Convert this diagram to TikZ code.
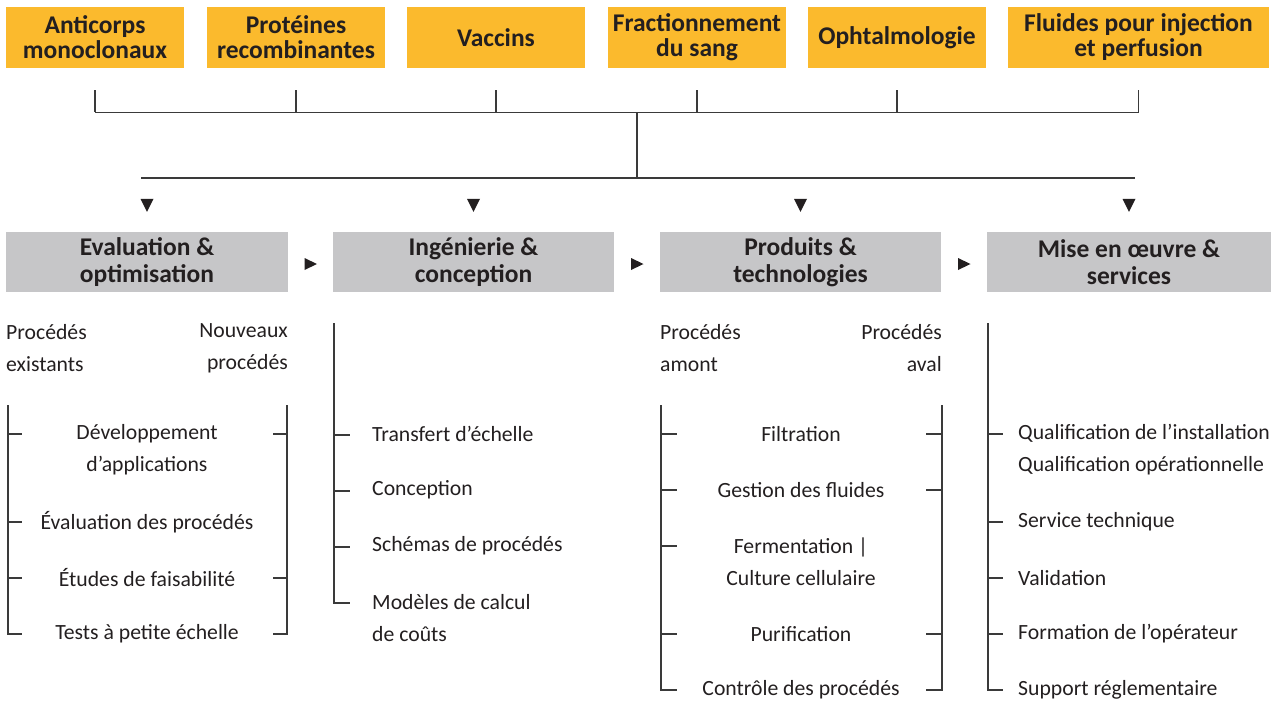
\documentclass[tikz,border=0pt]{standalone}
\usepackage{fontspec}
\setmainfont{Carlito}
\usetikzlibrary{calc}
\definecolor{orng}{HTML}{FBBA2D}
\definecolor{grayb}{HTML}{C6C6C8}
\definecolor{txt}{HTML}{231F20}
\definecolor{ln}{HTML}{3A3A3A}
\begin{document}
\begin{tikzpicture}[x=1pt,y=-1pt,
  topbox/.style={fill=orng, minimum height=61pt, minimum width=178pt, inner sep=0pt, align=center, text=txt, font=\bfseries\fontsize{25.5}{25}\selectfont},
  graybox/.style={fill=grayb, minimum height=60pt, inner sep=0pt, align=center, text=txt, font=\bfseries\fontsize{25.5}{26.5}\selectfont},
  item/.style={inner sep=0pt, text=txt, font=\fontsize{21.7}{32}\selectfont},
  line/.style={draw=ln, line width=1.3pt},
  tipmark/.style={fill=txt}
]
\useasboundingbox (0,0) rectangle (1281,702);

% top boxes
\node[topbox] (t1) at (95,37.5) {Anticorps\\monoclonaux};
\node[topbox] (t2) at (296,37.5) {Protéines\\recombinantes};
\node[topbox] (t3) at (496,37.5) {Vaccins};
\node[topbox] (t4) at (697,37.5) {Fractionnement\\du sang};
\node[topbox] (t5) at (897,37.5) {Ophtalmologie};
\node[topbox, minimum width=261pt] (t6) at (1138.5,37.5) {Fluides pour injection\\et perfusion};

\foreach \t in {t1,t2,t3,t4,t5,t6}{
  \draw[line] ($(\t.south)+(0,22)$) -- ($(\t.south)+(0,44)$);
}
\draw[line] ($(t1.south)+(0,44)$) -- ($(t6.south)+(0,44)$);
\coordinate (hub) at (637,112);
\coordinate (bus) at (637,178);
\coordinate (busL) at (141,178);
\coordinate (busR) at (1135,178);
\draw[line] (hub) -- (bus);
\draw[line] (busL) -- (busR);

% gray boxes
\node[graybox, minimum width=282pt] (g1) at (147,262) {Evaluation \&\\optimisation};
\node[graybox, minimum width=281pt] (g2) at (473.5,262) {Ingénierie \&\\conception};
\node[graybox, minimum width=281pt] (g3) at (800.5,262) {Produits \&\\technologies};
\node[graybox, minimum width=284pt] (g4) at (1129,262) {Mise en œuvre \&\\services};

\foreach \g in {g1,g2,g3,g4}{
  \fill[tipmark] ($(\g.north)+(-6.5,-33)$) -- ++(13,0) -- ++(-6.5,13) -- cycle;
}
\fill[tipmark] ($(g1.east)!0.5!(g2.west)+(-6,-4)$) -- ++(0,12) -- ++(12.5,-6) -- cycle;
\fill[tipmark] ($(g2.east)!0.5!(g3.west)+(-6,-4)$) -- ++(0,12) -- ++(12.5,-6) -- cycle;
\fill[tipmark] ($(g3.east)!0.5!(g4.west)+(-6,-4)$) -- ++(0,12) -- ++(12.5,-6) -- cycle;

% column 1
\node[item, anchor=west, align=left] (h1a) at (6,348) {Procédés\\existants};
\node[item, anchor=east, align=right] (h1b) at (288,348) {Nouveaux\\procédés};
\draw[line] (8,405) -- (8,634) -- (22,634);
\foreach \y in {434,522,578}{ \draw[line] (8,\y) -- (22,\y); }
\draw[line] (287,405) -- (287,634) -- (273,634);
\foreach \y in {434,578}{ \draw[line] (287,\y) -- (273,\y); }
\node[item, align=center] (c1a) at (147,450) {Développement\\d’applications};
\node[item] (c1b) at (147,522) {Évaluation des procédés};
\node[item] (c1c) at (147,578) {Études de faisabilité};
\node[item] (c1d) at (147,634) {Tests à petite échelle};

% column 2
\draw[line] (334,323) -- (334,603) -- (350,603);
\foreach \y in {435,491,547}{ \draw[line] (334,\y) -- (350,\y); }
\node[item, anchor=west] (c2a) at (372,434) {Transfert d’échelle};
\node[item, anchor=west] (c2b) at (372,490) {Conception};
\node[item, anchor=west] (c2c) at (372,546) {Schémas de procédés};
\node[item, anchor=west, align=left] (c2d) at (372,618) {Modèles de calcul\\de coûts};

% column 3
\node[item, anchor=west, align=left] (h3a) at (660,348) {Procédés\\amont};
\node[item, anchor=east, align=right] (h3b) at (942,348) {Procédés\\aval};
\draw[line] (661,405) -- (661,690) -- (677,690);
\foreach \y in {434,490,546,634}{ \draw[line] (661,\y) -- (677,\y); }
\draw[line] (942,405) -- (942,690) -- (926,690);
\foreach \y in {434,490,634}{ \draw[line] (942,\y) -- (926,\y); }
\node[item] (c3a) at (801,434) {Filtration};
\node[item] (c3b) at (801,490) {Gestion des fluides};
\node[item, align=center] (c3c) at (801,562) {Fermentation |\\Culture cellulaire};
\node[item] (c3d) at (801,634) {Purification};
\node[item] (c3e) at (801,690) {Contrôle des procédés};

% column 4
\draw[line] (988,323) -- (988,690) -- (1003,690);
\foreach \y in {434,522,578,634}{ \draw[line] (988,\y) -- (1003,\y); }
\node[item, anchor=west, align=left] (c4a) at (1018,450) {Qualification de l’installation\\Qualification opérationnelle};
\node[item, anchor=west] (c4b) at (1018,522) {Service technique};
\node[item, anchor=west] (c4c) at (1018,578) {Validation};
\node[item, anchor=west] (c4d) at (1018,634) {Formation de l’opérateur};
\node[item, anchor=west] (c4e) at (1018,690) {Support réglementaire};
\end{tikzpicture}
\end{document}
